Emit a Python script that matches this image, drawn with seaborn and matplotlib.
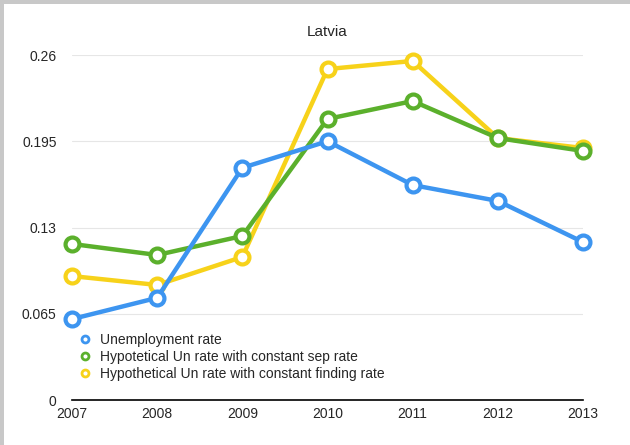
import matplotlib
matplotlib.use("Agg")
import matplotlib.pyplot as plt
import seaborn as sns
import pandas as pd
from matplotlib.lines import Line2D
from matplotlib.patches import Rectangle

years = [2007, 2008, 2009, 2010, 2011, 2012, 2013]
unemployment = [0.061, 0.077, 0.175, 0.195, 0.162, 0.150, 0.119]
const_sep = [0.1176, 0.1093, 0.1236, 0.2118, 0.2253, 0.1974, 0.1877]
const_find = [0.0934, 0.0867, 0.1078, 0.2494, 0.2555, 0.1974, 0.1899]
series_names = ["Unemployment rate",
                "Hypotetical Un rate with constant sep rate",
                "Hypothetical Un rate with constant finding rate"]
colors = ["#3d95f0", "#5bb02c", "#f7d21a"]
yticks = [0, 0.065, 0.13, 0.195, 0.26]
ytick_labels = ["0", "0.065", "0.13", "0.195", "0.26"]

df = pd.DataFrame({
    "year": years * 3,
    "value": unemployment + const_sep + const_find,
    "series": [series_names[0]] * 7 + [series_names[1]] * 7 + [series_names[2]] * 7,
})

sns.set_theme(style="white")
plt.rcParams['font.family'] = ['Liberation Sans', 'DejaVu Sans']

fig = plt.figure(figsize=(6.3, 4.45), dpi=100)
# light gray frame strips on top and left
fig.patches.append(Rectangle((0, 1 - 4 / 445), 1, 4 / 445, transform=fig.transFigure,
                             facecolor="#c8c8c8", edgecolor="none", zorder=10))
fig.patches.append(Rectangle((0, 0), 4 / 630, 1, transform=fig.transFigure,
                             facecolor="#c8c8c8", edgecolor="none", zorder=10))
ax = fig.add_axes([0.1143, 0.1011, 0.8111, 0.7753])

order = [2, 1, 0]
for i in order:
    sub = df[df["series"] == series_names[i]]
    sns.lineplot(data=sub, x="year", y="value", ax=ax, color=colors[i],
                 linewidth=3.2, marker="o", markersize=10, markerfacecolor="white",
                 markeredgecolor=colors[i], markeredgewidth=3, clip_on=False,
                 zorder=3 + (2 - i), legend=False)

ax.set_xlim(2007, 2013)
ax.set_ylim(0, 0.26)
ax.set_xticks(years)
ax.set_xticklabels([str(y) for y in years], fontsize=10)
ax.set_yticks(yticks)
ax.set_yticklabels(ytick_labels, fontsize=10)
ax.tick_params(axis="y", length=0, pad=11)
ax.tick_params(axis="x", length=0, pad=5)
for y in yticks[1:]:
    ax.axhline(y, color="#e6e6e6", linewidth=0.8, zorder=1)
for s in ["top", "right", "left"]:
    ax.spines[s].set_visible(False)
ax.spines["bottom"].set_color("black")
ax.spines["bottom"].set_linewidth(1.2)
ax.set_xlabel("")
ax.set_ylabel("")
ax.set_title("Latvia", fontsize=11, pad=14)

handles = [Line2D([], [], linestyle="none", marker="o", markersize=5,
                  markerfacecolor="white", markeredgecolor=c, markeredgewidth=2)
           for c in colors]
ax.legend(handles, series_names, loc="upper left", bbox_to_anchor=(0.0, 0.21),
          frameon=False, fontsize=10, handletextpad=0.6, labelspacing=0.22,
          borderaxespad=0.0, handlelength=1.0)

fig.savefig("out.png", dpi=100, facecolor="white")
